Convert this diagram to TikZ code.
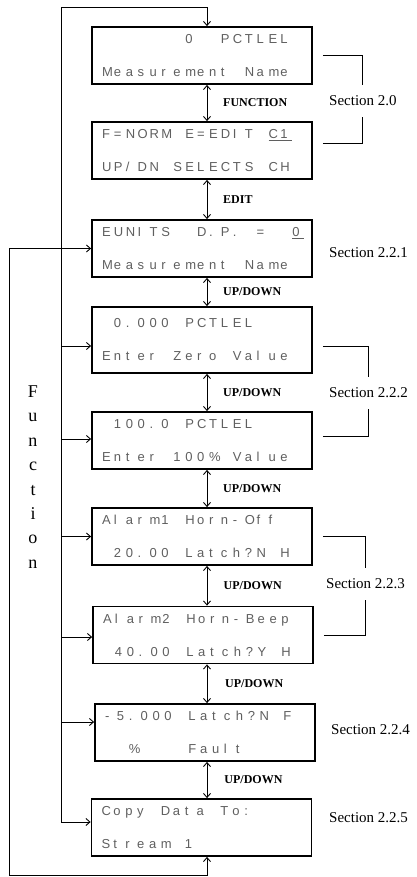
\documentclass[tikz,border=0pt]{standalone}
\usepackage{fontspec}
\setmainfont{Liberation Serif}
\newfontfamily\lcdface{Liberation Sans}
\usetikzlibrary{arrows.meta,calc}
\definecolor{lcdgray}{RGB}{95,95,95}

\newlength\lcdpitch
\setlength\lcdpitch{11.9pt}
\ExplSyntaxOn
\NewDocumentCommand \lcd { m }
  { \tl_map_inline:nn {#1} { \makebox[\lcdpitch][l]{##1} } }
\ExplSyntaxOff

\tikzset{
  lcdbox/.style={draw,line width=1.8pt,minimum width=220pt,minimum height=57pt,
    inner sep=0pt,text width=200pt,align=left,text=lcdgray,
    font=\lcdface\fontsize{13}{33}\selectfont},
  keylabel/.style={anchor=west,inner sep=0pt,font=\bfseries\fontsize{12}{14}\selectfont},
  seclabel/.style={anchor=west,inner xsep=0pt,inner ysep=11pt,font=\fontsize{15}{18}\selectfont},
  updown/.style={line width=0.9pt,
    {Straight Barb[length=4pt,width=7pt]}-{Straight Barb[length=4pt,width=7pt]}},
  feed/.style={line width=0.9pt,-{Straight Barb[length=4pt,width=7pt]}},
  loopback/.style={line width=0.9pt,
    {Straight Barb[length=4pt,width=7pt]}-{Straight Barb[length=4pt,width=7pt]}},
  bracket/.style={line width=1pt}
}

\begin{document}
\begin{tikzpicture}[x=1pt,y=-1pt]
  \useasboundingbox (0,0) rectangle (416,877);

  % display screens
  \node[lcdbox] (b1) at (202,55.5)
    {\lcd{~~~~~~~0~~PCTLEL}\\\lcd{Measurement~Name}};
  \node[lcdbox] (b2) at (202,150.5)
    {\lcd{F=NORM~E=EDIT~}\underline{\lcd{C1}}\\\lcd{UP/DN~SELECTS~CH}};
  \node[lcdbox] (b3) at (202,248.5)
    {\lcd{EUNITS~~D.P.~=~~}\underline{\lcd{0}}\\\lcd{Measurement~Name}};
  \node[lcdbox,minimum height=66pt] (b4) at (202,340)
    {\lcd{~0.000~PCTLEL}\\\lcd{Enter~Zero~Value}};
  \node[lcdbox] (b5) at (202,440.5)
    {\lcd{~100.0~PCTLEL}\\\lcd{Enter~100\%~Value}};
  \node[lcdbox] (b6) at (202,536.5)
    {\lcd{Alarm1~Horn-Off}\\\lcd{~20.00~Latch?N~H}};
  \node[lcdbox] (b7) at (203,635)
    {\lcd{Alarm2~Horn-Beep}\\\lcd{~40.00~Latch?Y~H}};
  \node[lcdbox] (b8) at (205,732.5)
    {\lcd{-5.000~Latch?N~F}\\\lcd{~~\%~~~~Fault}};
  \node[lcdbox] (b9) at (201.5,827.5)
    {\lcd{Copy~Data~To:}\\\lcd{Stream~1}};

  % key presses between screens
  \coordinate (axis) at (207,0);
  \foreach \a/\b/\t in {b1/b2/FUNCTION,b2/b3/EDIT,b3/b4/{UP/DOWN},b4/b5/{UP/DOWN},
                        b5/b6/{UP/DOWN},b6/b7/{UP/DOWN},b7/b8/{UP/DOWN},b8/b9/{UP/DOWN}}{
    \draw[updown] (\a.south -| axis) -- (\b.north -| axis);
    \node[keylabel] (k\a) at ($(\a.south)!0.5!(\b.north)+(21,0)$) {\t};
  }

  % section references
  \node[seclabel] (s20)  at (329,101) {Section 2.0};
  \node[seclabel] (s221) at (329,253) {Section 2.2.1};
  \node[seclabel] (s222) at (329,393) {Section 2.2.2};
  \node[seclabel] (s223) at (326,584) {Section 2.2.3};
  \node[seclabel] (s224) at (331,730) {Section 2.2.4};
  \node[seclabel] (s225) at (329,818) {Section 2.2.5};

  \draw[bracket] ([xshift=10pt]b1.east) -| (s20.north);
  \draw[bracket] ([xshift=10pt,yshift=6.5pt]b2.east) -| (s20.south);
  \draw[bracket] ([xshift=10pt,yshift=-6pt]b4.east) -| (s222.north);
  \draw[bracket] ([xshift=10pt,yshift=4.5pt]b5.east) -| (s222.south);
  \draw[bracket] ([xshift=10pt]b6.east) -| (s223.north);
  \draw[bracket] ([xshift=10pt]b7.east) -| (s223.south);

  % FUNCTION key loop
  \coordinate (ftop) at (61,7);
  \coordinate (fbot) at (9,875);
  \foreach \b/\dy in {b4/6,b5/-1.5,b6/0,b7/2,b8/-10.5,b9/-5.5}
    \coordinate (in\b) at ($(\b.west)+(0,\dy)$);
  \foreach \b in {b4,b5,b6,b7,b8,b9}
    \draw[feed] (in\b -| ftop) -- (in\b);
  \draw[feed] (inb9 -| ftop) -- (ftop) -| (b1.north -| axis);
  \draw[loopback] (b9.south -| axis) |- (fbot) |- (b3.west);

  \node[font=\fontsize{18}{24.4}\selectfont,align=center,inner sep=0pt] (fn) at (33,477)
    {F\\u\\n\\c\\t\\i\\o\\n};
\end{tikzpicture}
\end{document}
